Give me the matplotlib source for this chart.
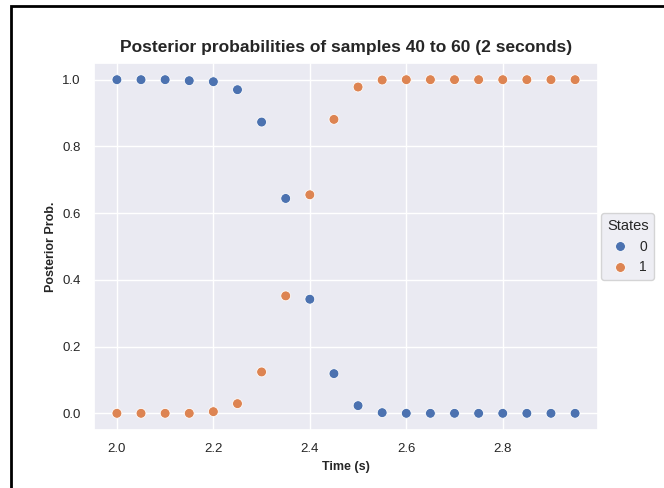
import matplotlib
matplotlib.use("Agg")
import matplotlib.pyplot as plt
import seaborn as sns
import pandas as pd
from matplotlib.patches import Rectangle

time_s = [2.00, 2.05, 2.10, 2.15, 2.20, 2.25, 2.30, 2.35, 2.40, 2.45,
          2.50, 2.55, 2.60, 2.65, 2.70, 2.75, 2.80, 2.85, 2.90, 2.95]
prob_state0 = [1.000, 1.000, 1.000, 0.997, 0.994, 0.970, 0.873, 0.644, 0.342, 0.119,
               0.023, 0.002, 0.000, 0.000, 0.000, 0.000, 0.000, 0.000, 0.000, 0.000]
prob_state1 = [0.000, 0.000, 0.000, 0.000, 0.005, 0.029, 0.124, 0.352, 0.655, 0.881,
               0.978, 0.999, 1.000, 1.000, 1.000, 1.000, 1.000, 1.000, 1.000, 1.000]
states = ["0", "1"]

df = pd.DataFrame({
    "Time": time_s * 2,
    "Prob": prob_state0 + prob_state1,
    "States": [states[0]] * len(time_s) + [states[1]] * len(time_s),
})

sns.set_theme(style="darkgrid")
plt.rcParams['font.family'] = ['Liberation Sans', 'DejaVu Sans']

fig = plt.figure(figsize=(6.64, 4.88), dpi=100)
ax = fig.add_axes([94 / 664, 1 - 430 / 488, (598 - 94) / 664, (430 - 63) / 488])

sns.scatterplot(data=df, x="Time", y="Prob", hue="States", ax=ax, s=50)

ax.set_title("Posterior probabilities of samples 40 to 60 (2 seconds)",
             fontsize=12.5, fontweight="bold", pad=8)
ax.set_xlabel("Time (s)", fontsize=9, fontweight="bold")
ax.set_ylabel("Posterior Prob.", fontsize=9, fontweight="bold")
ax.tick_params(labelsize=9.5)
ax.set_xticks([2.0, 2.2, 2.4, 2.6, 2.8])
ax.set_yticks([0.0, 0.2, 0.4, 0.6, 0.8, 1.0])

ax.legend(title="States", loc="center left", bbox_to_anchor=(1.0, 0.5),
          fontsize=10, title_fontsize=10.5, handletextpad=0.6,
          borderpad=0.4, borderaxespad=0.25, handlelength=1.6)

# frame drawn around the figure
fig.patches.append(Rectangle((11 / 664, -0.05), 1.1, 1 - 6 / 488 + 0.05,
                             transform=fig.transFigure, fill=False,
                             edgecolor="black", linewidth=2.0))

fig.savefig("out.png", dpi=100)
